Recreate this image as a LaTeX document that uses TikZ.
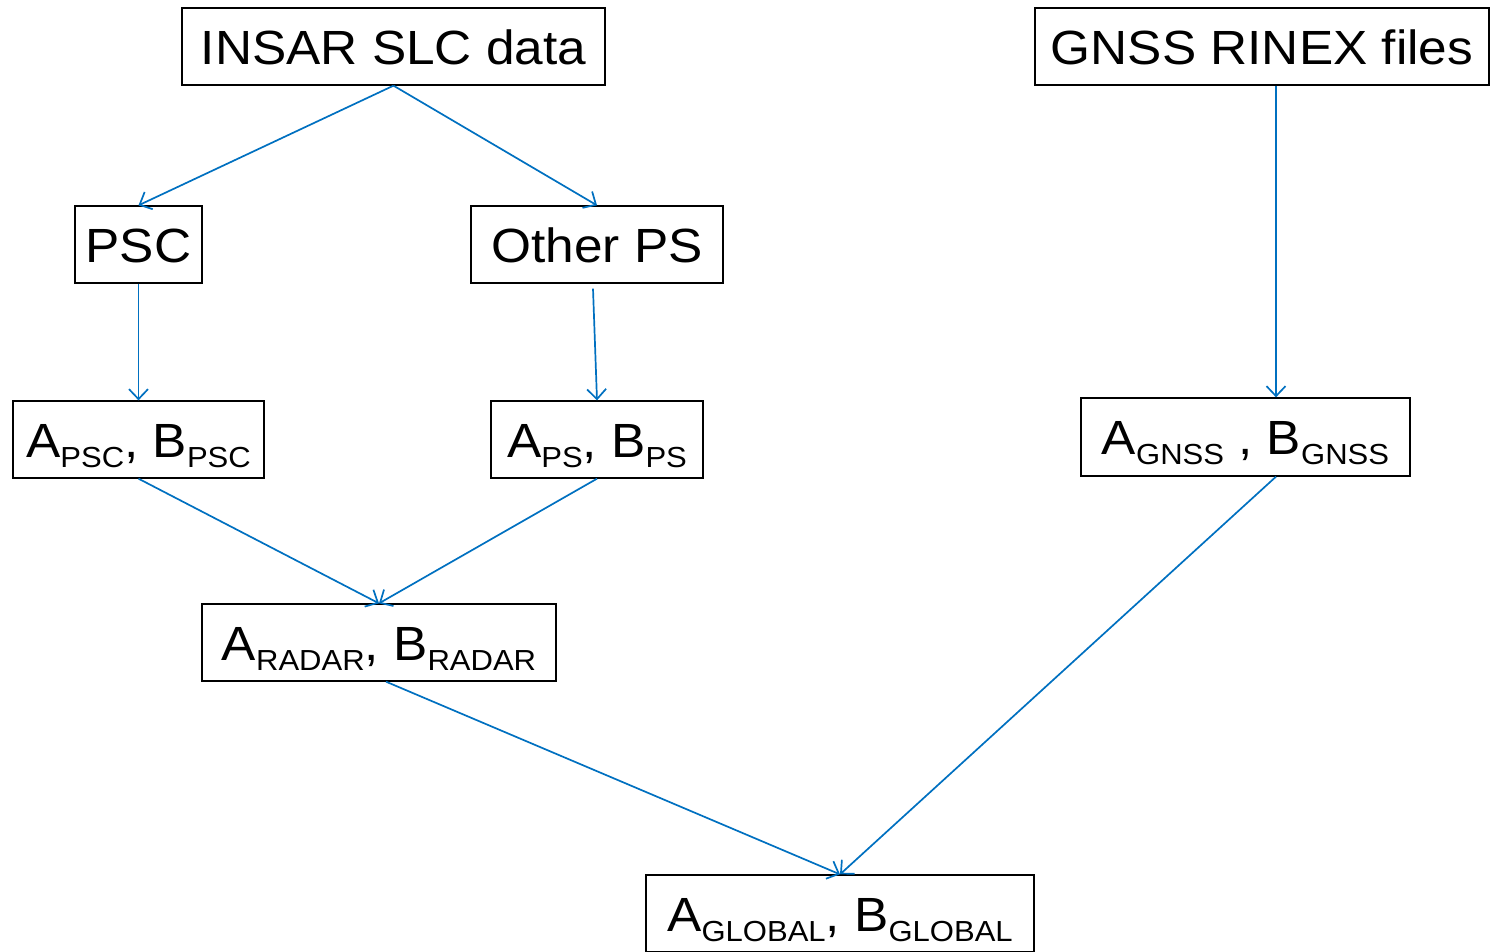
\documentclass[tikz,border=0pt]{standalone}
\usepackage{fontspec}
\setmainfont{Liberation Sans}[FakeStretch=1.07]
\usetikzlibrary{arrows.meta}
\definecolor{arrowblue}{RGB}{0,112,192}
\newcommand{\sbs}[1]{\raisebox{-10pt}{\fontsize{29}{34}\selectfont #1}}
\begin{document}
\begin{tikzpicture}[x=1pt,y=-1pt,
  box/.style={draw=black, line width=1.3pt, inner sep=0pt, text height=35pt, text depth=0pt,
    font=\fontsize{48}{56}\selectfont},
  conn/.style={draw=arrowblue, line width=1.7pt, -{Straight Barb[length=10pt,width=19pt]}}]
\useasboundingbox (0,0) rectangle (1490,951);
\node[box, minimum width=423pt, minimum height=77pt] (insar) at (393.5,46.5) {INSAR SLC data};
\node[box, minimum width=454pt, minimum height=77pt] (gnss) at (1262,46.5) {GNSS RINEX files};
\node[box, minimum width=127pt, minimum height=77pt] (psc) at (138.5,244.5) {PSC};
\node[box, minimum width=252pt, minimum height=77pt] (otherps) at (597,244.5) {Other PS};
\node[box, minimum width=251pt, minimum height=77pt] (apsc) at (138.5,439.5) {A\sbs{PSC}, B\sbs{PSC}};
\node[box, minimum width=212pt, minimum height=77pt] (aps) at (597,439.5) {A\sbs{PS}, B\sbs{PS}};
\node[box, minimum width=329pt, minimum height=78pt] (agnss) at (1245.5,437) {A\sbs{GNSS} , B\sbs{GNSS}};
\node[box, minimum width=354pt, minimum height=77pt] (radar) at (379,642.5) {A\sbs{RADAR}, B\sbs{RADAR}};
\node[box, minimum width=388pt, minimum height=77pt] (global) at (840,913.5) {A\sbs{GLOBAL}, B\sbs{GLOBAL}};
\draw[conn] (insar.south) -- (psc.north);
\draw[conn] (insar.south) -- (otherps.north);
\draw[conn] (psc.south) -- (apsc.north);
\draw[conn] ([xshift=-4pt,yshift=-5pt]otherps.south) -- (aps.north);
\draw[conn] ([xshift=14pt]gnss.south) -- ([xshift=30.5pt]agnss.north);
\draw[conn] (apsc.south) -- (radar.north);
\draw[conn] (aps.south) -- (radar.north);
\draw[conn] ([xshift=7pt]radar.south) -- (global.north);
\draw[conn] ([xshift=30.5pt]agnss.south) -- (global.north);
\end{tikzpicture}
\end{document}
